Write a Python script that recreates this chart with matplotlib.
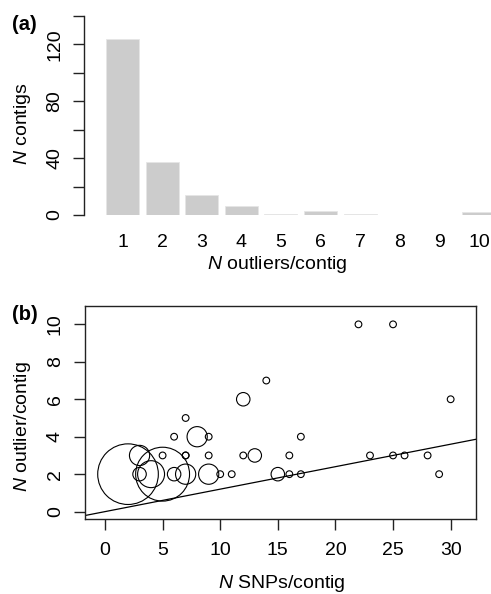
import matplotlib
matplotlib.use("Agg")
import matplotlib.pyplot as plt
import numpy as np

plt.rcParams['font.family'] = ['Liberation Sans', 'DejaVu Sans']
plt.rcParams['mathtext.fontset'] = 'custom'
plt.rcParams['mathtext.it'] = 'Liberation Sans:italic'
plt.rcParams['mathtext.rm'] = 'Liberation Sans'

# ---- Panel (a) data ----
outlier_counts = [1, 2, 3, 4, 5, 6, 7, 8, 9, 10]
n_contigs = [124, 37, 14, 6, 1, 3, 1, 0, 0, 2]

# ---- Panel (b) data ----
snps = [2, 3, 3, 4, 5, 5, 6, 6, 7, 7, 7, 7, 8, 9, 9, 9, 10, 11, 12, 12,
        13, 14, 15, 16, 16, 17, 17, 22, 23, 25, 25, 26, 28, 29, 30]
outl = [2, 3, 2, 2, 2, 3, 2, 4, 2, 3, 5, 3, 4, 4, 3, 2, 2, 2, 6, 3,
        3, 7, 2, 3, 2, 4, 2, 10, 3, 10, 3, 3, 3, 2, 6]
count = [9, 3, 2, 4, 8, 1, 2, 1, 3, 1, 1, 1, 3, 1, 1, 3, 1, 1, 2, 1,
         2, 1, 2, 1, 1, 1, 1, 1, 1, 1, 1, 1, 1, 1, 1]
fit_intercept = 0.0
fit_slope = 0.12

W, H = 491, 594
fig = plt.figure(figsize=(W / 100, H / 100), dpi=100)

def box(l, r, t, b):
    return [l / W, (H - b) / H, (r - l) / W, (b - t) / H]

FS = 14
dark = '#222222'

# ---------- Panel (a) ----------
axa = fig.add_axes(box(84, 491, 16, 215))
axa.bar(outlier_counts, n_contigs, width=0.833, color='#cccccc',
        edgecolor='#e6e6e6', linewidth=0.6)
axa.set_xlim(0.028, 10.306)
axa.set_ylim(0, 140)
for s in ['top', 'right', 'bottom']:
    axa.spines[s].set_visible(False)
axa.spines['left'].set_color(dark)
axa.spines['left'].set_linewidth(1.0)
axa.set_yticks(np.arange(0, 141, 20))
axa.set_yticklabels(['0', '', '40', '', '80', '', '120', ''])
axa.set_xticks(outlier_counts)
axa.set_xticklabels([str(v) for v in outlier_counts])
axa.tick_params(axis='y', length=8, width=1.0, color=dark, pad=7,
                labelsize=FS, direction='out')
axa.tick_params(axis='x', length=0, pad=14, labelsize=FS)
plt.setp(axa.get_yticklabels(), rotation=90, va='center')
axa.set_xlabel(r'$\it{N}$ outliers/contig', fontsize=FS, va='center')
axa.xaxis.set_label_coords(0.474, -0.251)
axa.set_ylabel(r'$\it{N}$ contigs', fontsize=FS, va='center')
axa.yaxis.set_label_coords(-0.15, 0.457)

# ---------- Panel (b) ----------
axb = fig.add_axes(box(84.7, 476, 306, 519.3))
unit = 4.85  # marker diameter (pt) for one contig
sizes = [(unit * c) ** 2 for c in count]
axb.scatter(snps, outl, s=sizes, facecolors='none', edgecolors='black',
            linewidths=0.8, zorder=3)
axb.set_xlim(-1.76, 32.2)
axb.set_ylim(-0.41, 10.98)
axb.axline((0, fit_intercept), slope=fit_slope, color='black', linewidth=0.9)
for s in axb.spines.values():
    s.set_color(dark)
    s.set_linewidth(1.0)
axb.set_xticks(np.arange(0, 31, 5))
axb.set_yticks(np.arange(0, 11, 2))
axb.tick_params(axis='both', length=8, width=1.0, color=dark, labelsize=FS,
                direction='out')
axb.tick_params(axis='x', pad=8)
axb.tick_params(axis='y', pad=7)
plt.setp(axb.get_yticklabels(), rotation=90, va='center')
axb.set_xlabel(r'$\it{N}$ SNPs/contig', fontsize=FS, va='center')
axb.xaxis.set_label_coords(0.503, -0.299)
axb.set_ylabel(r'$\it{N}$ outlier/contig', fontsize=FS, va='center')
axb.yaxis.set_label_coords(-0.158, 0.437)

fig.text(24 / W, 1 - 24.5 / H, '(a)', fontsize=FS + 0.5, fontweight='bold',
         ha='center', va='center')
fig.text(24.5 / W, 1 - 315 / H, '(b)', fontsize=FS + 0.5, fontweight='bold',
         ha='center', va='center')

fig.savefig('out.png', dpi=100)
